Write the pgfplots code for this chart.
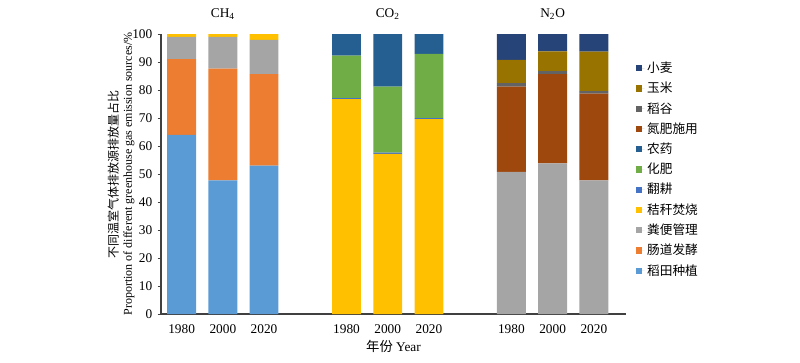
\documentclass[border=0pt]{standalone}
\usepackage{fontspec}
\setmainfont{Liberation Serif}
\newfontfamily\cjk{Noto Sans CJK SC}
\usepackage{pgfplots}
\usepackage{pgfplotstable}
\pgfplotsset{compat=1.18}
\definecolor{c1}{HTML}{5B9BD5}
\definecolor{c2}{HTML}{ED7D31}
\definecolor{c3}{HTML}{A5A5A5}
\definecolor{c4}{HTML}{FFC000}
\definecolor{c5}{HTML}{4472C4}
\definecolor{c6}{HTML}{70AD47}
\definecolor{c7}{HTML}{255E91}
\definecolor{c8}{HTML}{9E480E}
\definecolor{c9}{HTML}{636363}
\definecolor{c10}{HTML}{997300}
\definecolor{c11}{HTML}{264478}
\pgfplotstableread{
x  a    b    c    d    e   f    g    h    i   j    k
0  64   27   8    1    0   0    0    0    0   0    0
1  47.7 39.9 11.4 1    0   0    0    0    0   0    0
2  53   32.7 12.2 2.1  0   0    0    0    0   0    0
4  0    0    0    76.7 0.4 15.2 7.7  0    0   0    0
5  0    0    0    57.2 0.4 23.6 18.8 0    0   0    0
6  0    0    0    69.6 0.4 22.9 7.1  0    0   0    0
8  0    0    50.8 0    0   0    0    30.4 1.3 8.3  9.2
9  0    0    53.8 0    0   0    0    31.9 1.0 7.1  6.2
10 0    0    47.7 0    0   0    0    31.0 0.9 14.1 6.3
}\data
\begin{document}
\begin{tikzpicture}
\begin{axis}[
  scale only axis,
  width=348.75pt, height=210pt,
  at={(0,0)}, anchor=south west,
  ybar stacked, bar width=0.7,
  xmin=-0.5, xmax=10.78,
  ymin=0, ymax=100,
  ytick={0,10,...,100},
  xtick={0,1,2,4,5,6,8,9,10},
  xticklabels={1980,2000,2020,1980,2000,2020,1980,2000,2020},
  axis x line*=bottom, axis y line*=left,
  axis line style={black!75, line width=0.8pt},
  x axis line style={-}, y axis line style={-},
  xtick style={draw=none},
  ytick style={black!75, line width=0.6pt},
  tick align=outside, major tick length=2.5pt,
  tick label style={font=\fontsize{10}{12}\selectfont},
  /pgf/number format/assume math mode=true,
  xticklabel style={yshift=-2pt},
  yticklabel style={xshift=-0.5pt},
  xlabel={{\cjk 年份} Year},
  xlabel style={font=\fontsize{10}{12}\selectfont, yshift=2pt},
  ylabel={{\cjk 不同温室气体排放源排放量占比}\\Proportion of different greenhouse gas emission sources/\%},
  ylabel style={align=center, font=\fontsize{9}{10.5}\selectfont, yshift=-8.5pt},
  clip=false,
  reverse legend,
  legend style={at={(1.012,0.92)}, anchor=north west, draw=none, fill=none,
    font=\fontsize{9.5}{11}\selectfont, row sep=1.7pt},
  legend cell align=left,
  legend image code/.code={\fill[#1] (0pt,-2.3pt) rectangle (4.6pt,2.3pt); \path (0pt,0pt) -- (6.5pt,0pt);},
  every axis plot/.append style={draw=none},
]
\addplot[fill=c1] table[x=x,y=a]{\data};
\addplot[fill=c2] table[x=x,y=b]{\data};
\addplot[fill=c3] table[x=x,y=c]{\data};
\addplot[fill=c4] table[x=x,y=d]{\data};
\addplot[fill=c5] table[x=x,y=e]{\data};
\addplot[fill=c6] table[x=x,y=f]{\data};
\addplot[fill=c7] table[x=x,y=g]{\data};
\addplot[fill=c8] table[x=x,y=h]{\data};
\addplot[fill=c9] table[x=x,y=i]{\data};
\addplot[fill=c10] table[x=x,y=j]{\data};
\addplot[fill=c11] table[x=x,y=k]{\data};
\legend{{\cjk 稻田种植},{\cjk 肠道发酵},{\cjk 粪便管理},{\cjk 秸秆焚烧},{\cjk 翻耕},{\cjk 化肥},{\cjk 农药},{\cjk 氮肥施用},{\cjk 稻谷},{\cjk 玉米},{\cjk 小麦}}
\node[font=\fontsize{10}{12}\selectfont] at (axis cs:1,107.1) {CH\textsubscript{4}};
\node[font=\fontsize{10}{12}\selectfont] at (axis cs:5,107.1) {CO\textsubscript{2}};
\node[font=\fontsize{10}{12}\selectfont] at (axis cs:9,107.1) {N\textsubscript{2}O};
\end{axis}
\pgfresetboundingbox
\useasboundingbox (-120.75pt,-36pt) rectangle (479.25pt,235.5pt);
\end{tikzpicture}
\end{document}
